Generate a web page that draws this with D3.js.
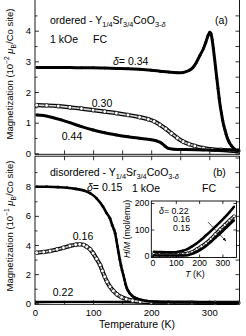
<!DOCTYPE html>
<html><head><meta charset="utf-8">
<script src="https://cdn.jsdelivr.net/npm/d3@7"></script>
<style>
body{margin:0;background:#fff}
svg{display:block;font-family:"Liberation Sans",Arial,sans-serif}
</style></head><body>
<svg id="chart" width="246" height="336"></svg>
<script>
// panel (a) ordered, M in 10^-2 muB/Co
const T_a34 = [3,20,40,60,80,100,120,140,160,180,200,215,230,245,255,265,272,278,284,290,294,298,301,303,305,307,309,311,313,315,317,319,321,323,325,327,329,331,333,335,338,341,344,347,350];
const M_a34 = [2.80,2.80,2.80,2.80,2.79,2.79,2.78,2.77,2.76,2.74,2.71,2.68,2.65,2.63,2.64,2.70,2.80,2.97,3.20,3.42,3.62,3.85,3.95,3.90,3.70,3.42,3.10,2.77,2.44,2.12,1.80,1.52,1.30,1.08,0.90,0.76,0.62,0.50,0.41,0.34,0.25,0.18,0.13,0.09,0.07];
const T_a30 = [3,20,40,60,80,100,120,140,160,180,195,205,215,225,235,245,255,265,275,290,305,320,335,350];
const M_a30 = [1.57,1.56,1.54,1.50,1.46,1.41,1.36,1.31,1.25,1.18,1.11,1.04,0.93,0.80,0.65,0.50,0.38,0.30,0.24,0.17,0.13,0.11,0.09,0.08];
const T_a44 = [3,15,30,45,60,80,100,120,140,160,180,200,210,218,224,230,240,260,290,320,350];
const M_a44 = [1.25,1.23,1.17,1.09,1.00,0.87,0.76,0.67,0.60,0.54,0.49,0.44,0.40,0.33,0.23,0.16,0.13,0.12,0.11,0.10,0.10];

// panel (b) disordered, M in 10^-1 muB/Co
const T_b15 = [3,20,40,55,70,85,95,106,117,123,129,133,136,138,140,142,144,146,148,150,152,154,156,158,160,163,167,171,175,182,192,210,240,280,320,350];
const M_b15 = [8.0,8.0,7.97,7.93,7.85,7.72,7.55,7.2,6.63,6.2,5.83,5.35,5.05,4.8,4.35,3.9,3.45,3.0,2.6,2.25,1.94,1.62,1.3,1.05,0.88,0.69,0.52,0.41,0.34,0.24,0.16,0.10,0.07,0.05,0.04,0.04];
const T_b16 = [3,15,26,38,49,60,70,77,84,89,95,100,106,112,116,120,124,129,135,141,149,157,168,181,200,230,270,310,350];
const M_b16 = [3.47,3.52,3.59,3.70,3.81,3.94,4.02,4.05,4.0,3.88,3.7,3.43,3.05,2.63,2.22,1.82,1.48,1.14,0.85,0.62,0.42,0.29,0.18,0.11,0.07,0.05,0.04,0.03,0.03];
const T_b22 = [3,50,100,150,200,250,300,350];
const M_b22 = [0.09,0.10,0.10,0.09,0.06,0.05,0.04,0.04];

// inset H/M (mol/emu)
const T_i = [5,30,60,90,110,130,150,170,190,210,230,250,270,290,310,330,350];
const HM_i22 = [16,15,14,14,16,20,26,36,48,62,78,94,111,128,146,165,186];
const HM_i16 = [7,6,6,6,6,7,9,15,25,36,48,64,82,100,117,134,150];
const HM_i15 = [3,2,2,2,2,2,3,8,16,26,38,53,69,85,102,119,135];

const svg = d3.select("#chart");
const x = d3.scaleLinear().domain([0,352]).range([35,239.5]);
const ya = d3.scaleLinear().domain([0,4]).range([153.3,30.7]);
const yb = d3.scaleLinear().domain([0,8]).range([303.3,186.7]);
const xi = d3.scaleLinear().domain([0,300]).range([152.5,222.4]);
const yi = d3.scaleLinear().domain([0,200]).range([256,203]);

function rich(t, parts){
  let cur = 0;
  parts.forEach(function(p){
    const s = p[1] || "";
    const target = s.indexOf("sub")>=0 ? 2.6 : (s.indexOf("sup")>=0 ? -3.8 : 0);
    const ts = t.append("tspan").text(p[0]).attr("dy", target-cur);
    cur = target;
    if (s.indexOf("sub")>=0 || s.indexOf("sup")>=0) ts.attr("font-size","0.7em");
    if (s==="i" || s==="sub i") ts.attr("font-style","italic");
  });
  return t;
}
function label(x0, y0, parts, size, anchor){
  const t = svg.append("text").attr("x",x0).attr("y",y0)
    .attr("font-size",size||10.5).attr("text-anchor",anchor||"start");
  return rich(t, parts);
}

function frame(x0,x1,y0,y1){
  svg.append("rect").attr("x",x0).attr("y",y0).attr("width",x1-x0).attr("height",y1-y0)
    .attr("fill","none").attr("stroke","#000").attr("stroke-width",0.9);
}

function ticks(axis, tr, vals, size, fmt, pad, fs){
  const g = svg.append("g").attr("transform",tr)
    .call(axis.tickValues(vals).tickSize(-size).tickPadding(pad||3).tickFormat(fmt||""));
  g.select(".domain").remove();
  g.selectAll("line").attr("stroke","#000").attr("stroke-width",0.8);
  g.selectAll("text").attr("font-size",fs||9.5).attr("font-family","Liberation Sans, Arial, sans-serif").attr("fill","#000");
  return g;
}

function filled(xs, ys, T, M, w, r){
  const pts = T.map((t,i)=>[xs(t), ys(M[i])]);
  svg.append("path").attr("d", d3.line().curve(d3.curveMonotoneX)(pts))
    .attr("fill","none").attr("stroke","#000").attr("stroke-width",w);
  svg.append("g").selectAll("circle").data(pts).join("circle")
    .attr("cx",d=>d[0]).attr("cy",d=>d[1]).attr("r",r).attr("fill","#000");
}
function open(xs, ys, T, M, w, r){
  const pts = T.map((t,i)=>[xs(t), ys(M[i])]);
  const d = d3.line().curve(d3.curveMonotoneX)(pts);
  svg.append("path").attr("d",d).attr("fill","none").attr("stroke","#000").attr("stroke-width",w);
  svg.append("path").attr("d",d).attr("fill","none").attr("stroke","#d8d8d8").attr("stroke-width",w*0.4);
  svg.append("g").selectAll("circle").data(pts).join("circle")
    .attr("cx",d=>d[0]).attr("cy",d=>d[1]).attr("r",r)
    .attr("fill","#fff").attr("stroke","#000").attr("stroke-width",0.7);
}

// ---- frames
const aTop = -2, aBot = 154.3, bTop = 156.2, bBot = 304.3, L = 35, R = 239.5;
frame(L,R,aTop,aBot);
frame(L,R,bTop,bBot);

// ---- panel (a) axes
ticks(d3.axisLeft(ya), `translate(${L},0)`, [0,1,2,3,4], 4, d3.format("d"), 4);
ticks(d3.axisLeft(ya), `translate(${L},0)`, [0.5,1.5,2.5,3.5,4.5], 2.5);
ticks(d3.axisRight(ya), `translate(${R},0)`, [0,0.5,1,1.5,2,2.5,3,3.5,4,4.5], 4);
ticks(d3.axisBottom(x), `translate(0,${aBot})`, [50,100,150,200,250,300], 4);

// ---- panel (b) axes
ticks(d3.axisLeft(yb), `translate(${L},0)`, [0,2,4,6,8], 4, d3.format("d"), 4);
ticks(d3.axisLeft(yb), `translate(${L},0)`, [1,3,5,7,9], 2.5);
ticks(d3.axisRight(yb), `translate(${R},0)`, [1,2,3,4,5,6,7,8,9,10], 4);
ticks(d3.axisTop(x), `translate(0,${bTop})`, [50,100,150,200,250,300], 4);
ticks(d3.axisBottom(x), `translate(0,${bBot})`, [0,100,200,300], 4, d3.format("d"), 4.5);
ticks(d3.axisBottom(x), `translate(0,${bBot})`, [50,150,250], 2.5);

// data panel a
open(x, ya, T_a30, M_a30, 4.2, 1.9);
filled(x, ya, T_a44, M_a44, 3, 1.4);
filled(x, ya, T_a34, M_a34, 3, 1.4);

// data panel b
filled(x, yb, T_b22, M_b22, 2.4, 1.2);
open(x, yb, T_b16, M_b16, 4.2, 1.9);
filled(x, yb, T_b15, M_b15, 2.6, 1.4);

// texts panel a
label(50, 24.3, [["ordered - Y"],["1/4","sub"],["Sr"],["3/4","sub"],["CoO"],["3-","sub"],["δ","sub i"]]);
label(50, 42.5, [["1 kOe"]]);
label(93, 42.5, [["FC"]]);
label(215, 24.3, [["(a)"]]);
label(113, 64.8, [["δ","i"],["= 0.34"]]);
label(102, 106.5, [["0.30"]], 10.5, "middle");
label(72, 139.5, [["0.44"]], 10.5, "middle");

// texts panel b
label(50, 176, [["disordered - Y"],["1/4","sub"],["Sr"],["3/4","sub"],["CoO"],["3-","sub"],["δ","sub i"]]);
label(213, 176, [["(b)"]]);
label(87, 190.5, [["δ","i"],["= 0.15"]]);
label(132, 192, [["1 kOe"]]);
label(202, 192, [["FC"]]);
label(83, 239.5, [["0.16"]], 10.5, "middle");
label(63, 296, [["0.22"]], 10.5, "middle");
label(137, 327.5, [["Temperature (K)"]], 10.5, "middle");

// y titles
svg.append("text").attr("transform","translate(13,74) rotate(-90)").attr("text-anchor","middle").attr("font-size",9.5)
  .call(t=>rich(t,[["Magnetization (10"],["−2","sup"],[" "],["μ","i"],["B","sub"],["/Co site)"]]));
svg.append("text").attr("transform","translate(13,226) rotate(-90)").attr("text-anchor","middle").attr("font-size",9.5)
  .call(t=>rich(t,[["Magnetization (10"],["−1","sup"],[" "],["μ","i"],["B","sub"],["/Co site)"]]));

// ---- inset
const iL = xi(-5), iR = 236.5, iT = 201, iB = 257.5;
svg.append("rect").attr("x",iL).attr("y",iT).attr("width",iR-iL).attr("height",iB-iT).attr("fill","#fff");
frame(iL,iR,iT,iB);
ticks(d3.axisBottom(xi), `translate(0,${iB})`, [0,100,200,300], 3, d3.format("d"), 2, 8.8);
ticks(d3.axisTop(xi), `translate(0,${iT})`, [100,200,300], 3);
ticks(d3.axisLeft(yi), `translate(${iL},0)`, [0,100,200], 3, d3.format("d"), 2, 8.8);
ticks(d3.axisRight(yi), `translate(${iR},0)`, [100,200], 3);

open(xi, yi, T_i, HM_i16, 3.6, 1.6);
filled(xi, yi, T_i, HM_i15, 2.6, 1.1);
filled(xi, yi, T_i, HM_i22, 2.6, 1.1);

svg.append("defs").append("marker").attr("id","ah").attr("viewBox","0 0 10 10")
  .attr("refX",9).attr("refY",5).attr("markerWidth",5).attr("markerHeight",5).attr("orient","auto")
  .append("path").attr("d","M0,1L10,5L0,9Z").attr("fill","#000");
svg.append("line").attr("x1",xi(238)).attr("y1",yi(128)).attr("x2",xi(315)).attr("y2",yi(57))
  .attr("stroke","#000").attr("stroke-width",0.7).attr("marker-end","url(#ah)");

label(159, 213.5, [["δ","i"],["= 0.22"]], 8.8);
label(173, 222.3, [["0.16"]], 8.8);
label(173, 231, [["0.15"]], 8.8);
label(195, 276.5, [["T","i"],[" (K)"]], 8.8, "middle");
svg.append("text").attr("transform","translate(130,229) rotate(-90)").attr("text-anchor","middle").attr("font-size",8.8)
  .call(t=>rich(t,[["H","i"],["/"],["M","i"],[" (mol/emu)"]]));
</script></body></html>
